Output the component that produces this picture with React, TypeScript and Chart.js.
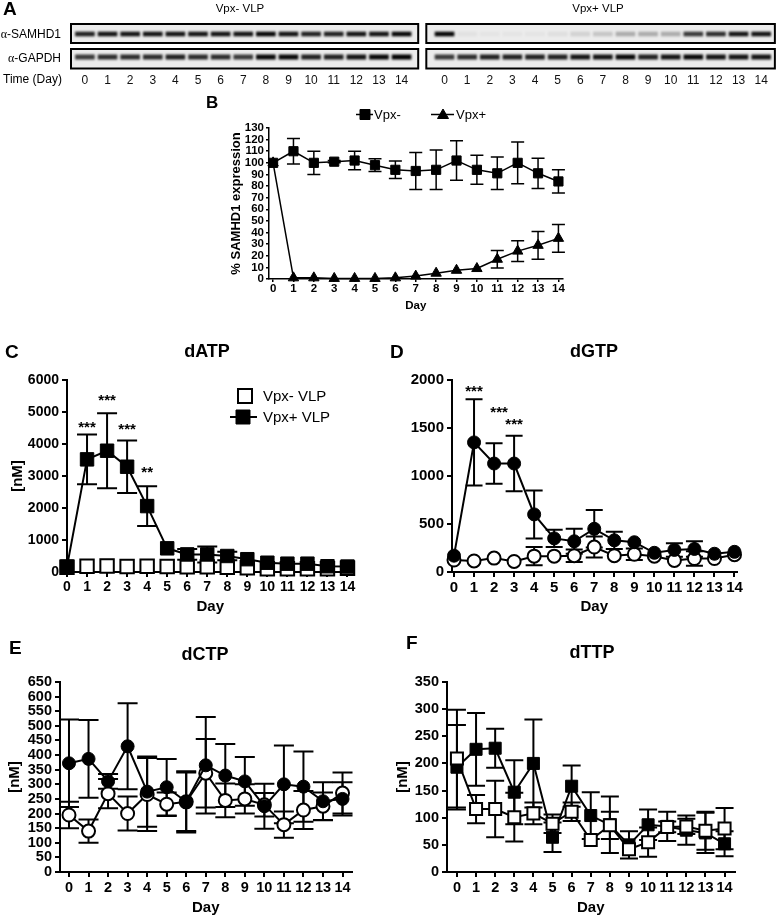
import React, { useEffect, useRef } from "react";
import { Chart, registerables } from "chart.js";
Chart.register(...registerables);

const FONT = '"Liberation Sans", Arial, Helvetica, sans-serif';
Chart.defaults.font.family = FONT;
Chart.defaults.color = "#000";

// ---------------- DATA ----------------
const days = [0, 1, 2, 3, 4, 5, 6, 7, 8, 9, 10, 11, 12, 13, 14];

// Panel A: band intensities (0..1)
const samhd1Left = [0.8, 0.85, 0.85, 0.85, 0.85, 0.85, 0.85, 0.85, 0.9, 0.85, 0.8, 0.8, 0.85, 0.85, 0.9];
const gapdhLeft = [0.7, 0.75, 0.75, 0.75, 0.8, 0.75, 0.75, 0.7, 0.9, 0.9, 0.8, 0.8, 0.85, 0.9, 0.95];
const samhd1Right = [0.9, 0.04, 0.03, 0.03, 0.03, 0.05, 0.1, 0.15, 0.25, 0.25, 0.25, 0.7, 0.75, 0.85, 0.85];
const gapdhRight = [0.7, 0.75, 0.8, 0.8, 0.8, 0.8, 0.85, 0.85, 0.9, 0.8, 0.85, 0.9, 0.85, 0.85, 0.85];

// Panel B: % SAMHD1 expression
const bMinus = [100, 110, 100, 101, 102, 98, 94, 93, 94, 102, 94, 91, 100, 91, 84];
const bMinusErr = [0, 11, 10, 1, 8, 5.5, 7.5, 16, 17, 17, 12.5, 14, 18, 13, 10];
const bPlus = [100, 1, 1, 0.5, 0.5, 0.5, 1, 2.5, 5, 7.5, 9, 17, 24, 29, 35];
const bPlusErr = [0, 0, 0, 0, 0, 0, 0, 0, 0, 0, 0, 7.5, 9, 12, 12];
const bYTicks = [0, 10, 20, 30, 40, 50, 60, 70, 80, 90, 100, 110, 120, 130];

// Panel C: dATP
const cPlus = [170, 3520, 3790, 3290, 2060, 740, 550, 550, 500, 400, 290, 260, 260, 180, 170];
const cPlusErr = [0, 780, 1170, 820, 620, 0, 170, 250, 130, 0, 0, 0, 0, 0, 0];
const cMinus = [150, 180, 190, 170, 180, 170, 160, 160, 150, 130, 100, 100, 100, 100, 120];
const cMinusErr = [0, 0, 0, 0, 0, 0, 0, 0, 0, 0, 0, 0, 0, 0, 0];
const cStars = ["", "***", "***", "***", "**", "", "", "", "", "", "", "", "", "", ""];
const cYTicks = [0, 1000, 2000, 3000, 4000, 5000, 6000];

// Panel D: dGTP
const dPlus = [170, 1350, 1130, 1130, 600, 350, 320, 450, 330, 310, 200, 230, 240, 190, 210];
const dPlusErr = [0, 450, 210, 290, 250, 90, 130, 195, 90, 0, 0, 70, 80, 0, 0];
const dMinus = [125, 115, 145, 110, 165, 165, 170, 260, 170, 185, 165, 120, 140, 140, 180];
const dMinusErr = [0, 0, 0, 0, 95, 0, 65, 110, 0, 60, 0, 0, 75, 0, 0];
const dStars = ["", "***", "***", "***", "", "", "", "", "", "", "", "", "", "", ""];
const dYTicks = [0, 500, 1000, 1500, 2000];

// Panel E: dCTP
const ePlus = [372, 387, 310, 430, 275, 290, 240, 365, 330, 310, 225, 300, 292, 242, 250];
const ePlusErr = [150, 133, 25, 147, 120, 97, 105, 165, 108, 83, 77, 133, 120, 65, 57];
const eMinus = [195, 140, 268, 200, 265, 232, 240, 338, 245, 250, 230, 162, 212, 225, 270];
const eMinusErr = [45, 40, 50, 58, 125, 40, 100, 117, 58, 50, 40, 45, 65, 47, 70];
const eYTicks = [0, 50, 100, 150, 200, 250, 300, 350, 400, 450, 500, 550, 600, 650];

// Panel F: dTTP
const fPlus = [193, 226, 228, 147, 200, 64, 158, 104, 87, 50, 87, 84, 77, 72, 52];
const fPlusErr = [78, 67, 36, 59, 81, 27, 38, 43, 52, 25, 28, 27, 27, 37, 23];
const fMinus = [209, 116, 116, 101, 108, 89, 111, 59, 86, 42, 55, 83, 84, 76, 80];
const fMinusErr = [90, 26, 52, 45, 20, 17, 17, 0, 25, 0, 27, 10, 14, 35, 38];
const fYTicks = [0, 50, 100, 150, 200, 250, 300, 350];

// ---------------- PLUGINS ----------------
function makeErrBars(cap: number, lw: number) {
  return {
    id: "errbars",
    beforeDatasetsDraw(chart: any) {
      const { ctx } = chart;
      const xs = chart.scales.x, ys = chart.scales.y;
      ctx.save();
      ctx.strokeStyle = "#000";
      ctx.lineWidth = lw;
      chart.data.datasets.forEach((ds: any) => {
        const errs = ds.errors;
        if (!errs) return;
        ds.data.forEach((p: any, i: number) => {
          const e = errs[i];
          if (!e) return;
          const x = xs.getPixelForValue(p.x);
          const yt = ys.getPixelForValue(p.y + e);
          const yb = ys.getPixelForValue(Math.max(p.y - e, ys.min));
          ctx.beginPath();
          ctx.moveTo(x, yt); ctx.lineTo(x, yb);
          ctx.moveTo(x - cap / 2, yt); ctx.lineTo(x + cap / 2, yt);
          if (p.y - e >= ys.min) { ctx.moveTo(x - cap / 2, yb); ctx.lineTo(x + cap / 2, yb); }
          ctx.stroke();
        });
      });
      ctx.restore();
    },
  };
}

function makeStars(labels: string[], gaps: number[], dxs: number[], size: number) {
  return {
    id: "stars",
    afterDatasetsDraw(chart: any) {
      const { ctx } = chart;
      const ds: any = chart.data.datasets[0];
      const xs = chart.scales.x, ys = chart.scales.y;
      ctx.save();
      ctx.font = `bold ${size}px ${FONT}`;
      ctx.textAlign = "center";
      ctx.textBaseline = "alphabetic";
      ctx.fillStyle = "#000";
      labels.forEach((t, i) => {
        if (!t) return;
        const p = ds.data[i];
        const top = ys.getPixelForValue(p.y + (ds.errors?.[i] || 0));
        const x = xs.getPixelForValue(p.x) + (dxs[i] || 0);
        const y = top - (gaps[i] ?? 14) + size * 0.57;
        ctx.fillText(t, x, y);
      });
      ctx.restore();
    },
  };
}

type LegendItem = { x0: number; x1: number; mx: number; y: number; marker: string; fill: boolean; size: number; line: boolean; text: string; tx: number };
function makeLegend(items: LegendItem[], fontSize: number, lw: number) {
  return {
    id: "customLegend",
    afterDraw(chart: any) {
      const { ctx } = chart;
      ctx.save();
      items.forEach((it) => {
        ctx.strokeStyle = "#000";
        ctx.lineWidth = lw;
        if (it.line) {
          ctx.beginPath(); ctx.moveTo(it.x0, it.y); ctx.lineTo(it.x1, it.y); ctx.stroke();
        }
        ctx.fillStyle = it.fill ? "#000" : "#fff";
        const h = it.size / 2;
        ctx.beginPath();
        if (it.marker === "rect") ctx.rect(it.mx - h, it.y - h, it.size, it.size);
        else if (it.marker === "triangle") {
          ctx.moveTo(it.mx, it.y - h * 1.1); ctx.lineTo(it.mx + h * 1.1, it.y + h * 0.8); ctx.lineTo(it.mx - h * 1.1, it.y + h * 0.8); ctx.closePath();
        } else ctx.arc(it.mx, it.y, h, 0, Math.PI * 2);
        ctx.fill();
        ctx.lineWidth = it.fill ? 1 : 2;
        ctx.stroke();
        ctx.fillStyle = "#000";
        ctx.font = `${fontSize}px ${FONT}`;
        ctx.textAlign = "left";
        ctx.textBaseline = "middle";
        ctx.fillText(it.text, it.tx, it.y + 1);
      });
      ctx.restore();
    },
  };
}

// ---------------- HELPERS ----------------
function lineDs(label: string, vals: number[], errs: number[], o: any) {
  return {
    label,
    data: vals.map((v, i) => ({ x: days[i], y: v })),
    errors: errs,
    borderColor: "#000",
    borderWidth: o.lw ?? 2,
    showLine: o.showLine ?? true,
    pointStyle: o.style,
    pointRadius: o.r,
    pointHoverRadius: o.r,
    pointBackgroundColor: o.fill ? "#000" : "#fff",
    pointBorderColor: "#000",
    pointBorderWidth: o.fill ? 1 : 2,
    tension: 0,
    fill: false,
    clip: false,
  };
}

function panelConfig(p: any) {
  const tickFont = { size: p.tickSize, weight: "bold" as const };
  return {
    type: "line",
    data: { datasets: p.datasets },
    options: {
      responsive: false,
      animation: false,
      events: [],
      layout: { padding: { left: 0, right: p.padRight, top: p.padTop, bottom: 0 } },
      plugins: { legend: { display: false }, tooltip: { enabled: false }, title: { display: false } },
      scales: {
        x: {
          type: "linear",
          min: p.xMin,
          max: p.xMax,
          afterBuildTicks: (s: any) => { s.ticks = days.map((v) => ({ value: v })); },
          ticks: { font: tickFont, color: "#000", padding: p.xPad, autoSkip: false, maxRotation: 0, callback: (v: any) => String(v) },
          grid: { drawOnChartArea: false, drawTicks: true, tickLength: p.tickLen, color: "#000", lineWidth: p.axisW },
          border: { display: true, color: "#000", width: p.axisW },
          title: { display: true, text: "Day", font: { size: p.titleSize, weight: "bold" }, color: "#000", padding: { top: 0, bottom: p.xTitlePad } },
          afterFit: (s: any) => { s.height = p.xHeight; },
        },
        y: {
          type: "linear",
          min: 0,
          max: p.yTicks[p.yTicks.length - 1],
          afterBuildTicks: (s: any) => { s.ticks = p.yTicks.map((v: number) => ({ value: v })); },
          ticks: { font: tickFont, color: "#000", padding: p.yPad, autoSkip: false, callback: (v: any) => String(v) },
          grid: { drawOnChartArea: false, drawTicks: true, tickLength: p.tickLen, color: "#000", lineWidth: p.axisW },
          border: { display: true, color: "#000", width: p.axisW },
          title: { display: !!p.yTitle, text: p.yTitle || "", font: { size: p.yTitleSize, weight: "bold" }, color: "#000", padding: { top: 4, bottom: 0 } },
          afterFit: (s: any) => { s.width = p.yWidth; },
        },
      },
    },
    plugins: [makeErrBars(p.cap, p.errW), ...(p.extra || [])],
  };
}

function blotConfig() {
  const rightOffset = 15.9;
  const lanePos = [...days, ...days.map((d) => d + rightOffset)];
  const laneText = [...days, ...days].map(String);
  const row1 = 11, row2 = 34;
  const band = (intens: number[], xs: number[], c: number, h: number) => ({
    type: "bar",
    data: xs.map((x) => ({ x, y: [c - h, c + h] })),
    backgroundColor: intens.map((a) => `rgba(0,0,0,${Math.min(1, a * 1.08)})`),
    barThickness: 19,
    borderWidth: 0,
    grouped: false,
  });
  const rightXs = days.map((d) => d + rightOffset);
  const cols = [[-0.66, 14.78], [15.05, 30.55]];
  const rows = [[0, 21], [25, 46.5]];
  const rectsPx = (chart: any) => {
    const xs = chart.scales.x, ys = chart.scales.y;
    const out: number[][] = [];
    cols.forEach(([a, b]) => rows.forEach(([t, u]) => {
      const x0 = xs.getPixelForValue(a), x1 = xs.getPixelForValue(b);
      const y0 = ys.getPixelForValue(t), y1 = ys.getPixelForValue(u);
      out.push([x0 + 1, y0 + 1, x1 - x0 - 2, y1 - y0 - 2]);
    }));
    return out;
  };
  const boxes = {
    id: "boxes",
    beforeDatasetsDraw(chart: any) {
      const { ctx } = chart;
      ctx.save();
      ctx.fillStyle = "#ececec";
      rectsPx(chart).forEach((r) => ctx.fillRect(r[0], r[1], r[2], r[3]));
      ctx.restore();
      ctx.save();
      ctx.filter = "blur(0.8px)";
    },
    afterDatasetsDraw(chart: any) {
      const { ctx } = chart;
      ctx.restore();
      ctx.save();
      ctx.strokeStyle = "#000";
      ctx.lineWidth = 2;
      rectsPx(chart).forEach((r) => ctx.strokeRect(r[0], r[1], r[2], r[3]));
      ctx.restore();
    },
  };
  return {
    type: "bar",
    data: {
      datasets: [
        band(samhd1Left, days, row1, 2),
        band(gapdhLeft, days, row2, 2.2),
        band(samhd1Right, rightXs, row1, 2),
        band(gapdhRight, rightXs, row2, 2.2),
      ],
    },
    options: {
      responsive: false,
      animation: false,
      events: [],
      layout: { padding: { left: 70, right: 1, top: 23, bottom: 0 } },
      plugins: { legend: { display: false }, tooltip: { enabled: false } },
      scales: {
        x: {
          type: "linear",
          min: -0.66,
          max: 30.6,
          offset: false,
          afterBuildTicks: (s: any) => { s.ticks = lanePos.map((v) => ({ value: v })); },
          ticks: { font: { size: 12 }, color: "#111", padding: 3, autoSkip: false, maxRotation: 0, callback: (_v: any, i: number) => laneText[i] },
          grid: { display: false, drawTicks: false },
          border: { display: false },
          afterFit: (s: any) => { s.height = 20; },
        },
        y: { display: false, min: 0, max: 47, reverse: true },
      },
    },
    plugins: [boxes],
  };
}

// ---------------- COMPONENTS ----------------
function ChartBox({ left, top, width, height, make }: any) {
  const ref = useRef<HTMLCanvasElement>(null);
  useEffect(() => {
    const chart = new Chart(ref.current as HTMLCanvasElement, make());
    return () => chart.destroy();
  }, []);
  return <canvas ref={ref} width={width} height={height} style={{ position: "absolute", left, top, width, height }} />;
}

function Txt({ x, y, children, size = 12, bold = false, align = "left", w = 200, family = FONT }: any) {
  const left = align === "center" ? x - w / 2 : align === "right" ? x - w : x;
  return (
    <div style={{ position: "absolute", left, top: y - size * 0.6, width: w, height: size * 1.2, lineHeight: `${size * 1.2}px`, fontSize: size, fontWeight: bold ? "bold" : "normal", fontFamily: family, textAlign: align, whiteSpace: "nowrap", color: "#000" }}>
      {children}
    </div>
  );
}

const bConfig = () =>
  panelConfig({
    datasets: [
      lineDs("Vpx-", bMinus, bMinusErr, { style: "rect", r: 6.5, fill: true, lw: 1.5 }),
      lineDs("Vpx+", bPlus, bPlusErr, { style: "triangle", r: 6, fill: true, lw: 1.5 }),
    ],
    xMin: -0.2, xMax: 14.2, yTicks: bYTicks,
    padTop: 33, padRight: 5, yWidth: 44, xHeight: 36,
    tickSize: 11.5, titleSize: 11.5, yTitle: "% SAMHD1 expression", yTitleSize: 13,
    tickLen: 3, xPad: 0, yPad: 2, axisW: 1.5, xTitlePad: 2, cap: 13, errW: 1.5,
    extra: [
      makeLegend([
        { x0: 131, x1: 148, mx: 140, y: 19.5, marker: "rect", fill: true, size: 10, line: true, text: "Vpx-", tx: 149 },
        { x0: 206, x1: 229, mx: 218, y: 19.5, marker: "triangle", fill: true, size: 10, line: true, text: "Vpx+", tx: 231 },
      ], 13, 1.5),
    ],
  });

const cConfig = () =>
  panelConfig({
    datasets: [
      lineDs("Vpx+ VLP", cPlus, cPlusErr, { style: "rect", r: 9.5, fill: true }),
      lineDs("Vpx- VLP", cMinus, cMinusErr, { style: "rect", r: 9.5, fill: false, showLine: false }),
    ],
    xMin: 0, xMax: 14.3, yTicks: cYTicks,
    padTop: 50, padRight: 7, yWidth: 62, xHeight: 48,
    tickSize: 14, titleSize: 15, yTitle: "[nM]", yTitleSize: 15,
    tickLen: 5, xPad: 2, yPad: 3, axisW: 2, xTitlePad: 4, cap: 20, errW: 2,
    extra: [
      makeStars(cStars, [0, 11, 17, 15, 18], [], 15),
      makeLegend([
        { x0: 0, x1: 0, mx: 240, y: 66, marker: "rect", fill: false, size: 14, line: false, text: "Vpx- VLP", tx: 258 },
        { x0: 225, x1: 252, mx: 238, y: 87, marker: "rect", fill: true, size: 14, line: true, text: "Vpx+ VLP", tx: 258 },
      ], 15, 2),
    ],
  });

const dConfig = () =>
  panelConfig({
    datasets: [
      lineDs("Vpx+ VLP", dPlus, dPlusErr, { style: "circle", r: 6.5, fill: true }),
      lineDs("Vpx- VLP", dMinus, dMinusErr, { style: "circle", r: 6.5, fill: false }),
    ],
    xMin: -0.1, xMax: 14.1, yTicks: dYTicks,
    padTop: 50, padRight: 5, yWidth: 62, xHeight: 48,
    tickSize: 15, titleSize: 15, yTitle: "", yTitleSize: 15,
    tickLen: 5, xPad: 2, yPad: 3, axisW: 2, xTitlePad: 4, cap: 17, errW: 2,
    extra: [makeStars(dStars, [0, 12, 35, 15], [0, 0, 5, 0], 15)],
  });

const eConfig = () =>
  panelConfig({
    datasets: [
      lineDs("Vpx+ VLP", ePlus, ePlusErr, { style: "circle", r: 6.5, fill: true }),
      lineDs("Vpx- VLP", eMinus, eMinusErr, { style: "circle", r: 6.5, fill: false }),
    ],
    xMin: -0.46, xMax: 14.46, yTicks: eYTicks,
    padTop: 52, padRight: 8, yWidth: 58, xHeight: 48,
    tickSize: 14.5, titleSize: 15, yTitle: "[nM]", yTitleSize: 15,
    tickLen: 5, xPad: 2, yPad: 3, axisW: 2, xTitlePad: 3, cap: 20, errW: 2,
  });

const fConfig = () =>
  panelConfig({
    datasets: [
      lineDs("Vpx- VLP", fMinus, fMinusErr, { style: "rect", r: 8.5, fill: false }),
      lineDs("Vpx+ VLP", fPlus, fPlusErr, { style: "rect", r: 8.5, fill: true }),
    ],
    xMin: -0.52, xMax: 14.52, yTicks: fYTicks,
    padTop: 52, padRight: 7, yWidth: 57, xHeight: 48,
    tickSize: 14.5, titleSize: 15, yTitle: "[nM]", yTitleSize: 15,
    tickLen: 5, xPad: 2, yPad: 3, axisW: 2, xTitlePad: 3, cap: 18, errW: 2,
  });

export default function App() {
  return (
    <div style={{ position: "absolute", left: 0, top: 0, width: 778, height: 920, background: "#fff", overflow: "hidden" }}>
      {/* Panel A */}
      <ChartBox left={0} top={0} width={778} height={90} make={blotConfig} />
      <Txt x={3} y={9} size={19} bold>A</Txt>
      <Txt x={240} y={9} size={11.5} align="center">Vpx- VLP</Txt>
      <Txt x={598} y={9} size={11.5} align="center">Vpx+ VLP</Txt>
      <Txt x={61} y={34} size={12} align="right"><span style={{ fontFamily: '"Liberation Serif", "DejaVu Serif", serif' }}>α</span>-SAMHD1</Txt>
      <Txt x={61} y={58} size={12} align="right"><span style={{ fontFamily: '"Liberation Serif", "DejaVu Serif", serif' }}>α</span>-GAPDH</Txt>
      <Txt x={3} y={79} size={12}>Time (Day)</Txt>

      {/* Panel B */}
      <ChartBox left={225} top={95} width={345} height={220} make={bConfig} />
      <Txt x={206} y={103} size={17} bold>B</Txt>

      {/* Panel C */}
      <ChartBox left={5} top={330} width={360} height={290} make={cConfig} />
      <Txt x={5} y={352} size={19} bold>C</Txt>
      <Txt x={207} y={352} size={18} bold align="center">dATP</Txt>

      {/* Panel D */}
      <ChartBox left={390} top={330} width={355} height={290} make={dConfig} />
      <Txt x={390} y={352} size={19} bold>D</Txt>
      <Txt x={594} y={352} size={18} bold align="center">dGTP</Txt>

      {/* Panel E */}
      <ChartBox left={2} top={630} width={358} height={290} make={eConfig} />
      <Txt x={9} y={648} size={19} bold>E</Txt>
      <Txt x={205} y={655} size={18} bold align="center">dCTP</Txt>

      {/* Panel F */}
      <ChartBox left={390} top={630} width={355} height={290} make={fConfig} />
      <Txt x={406} y={643} size={19} bold>F</Txt>
      <Txt x={592} y={653} size={18} bold align="center">dTTP</Txt>
    </div>
  );
}
